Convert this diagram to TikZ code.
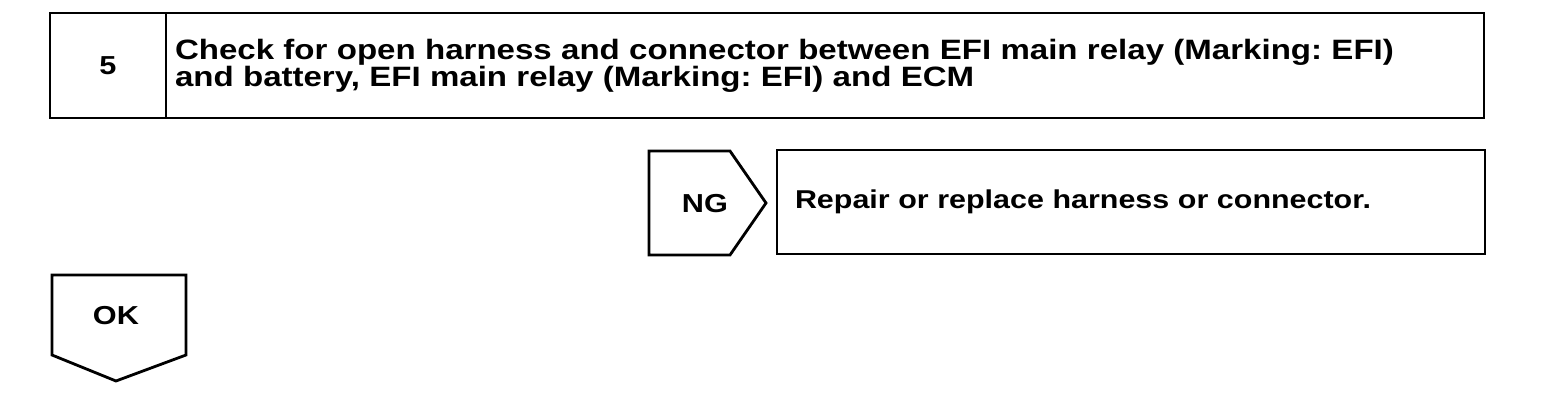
\documentclass[tikz,border=0pt]{standalone}
\usepackage{fontspec}
\setmainfont{Liberation Sans}[FakeStretch=1.18]
\usepackage{tikz}
\usetikzlibrary{positioning}
\frenchspacing

\begin{document}
\begin{tikzpicture}[x=0.5pt, y=-0.5pt,
  every node/.style={font=\bfseries\fontsize{13}{13.5}\selectfont},
  frame/.style={draw, line width=1.4pt, inner sep=0pt, outer sep=0pt},
  tag/.style={inner sep=0pt},
  headtext/.style={font=\bfseries\fontsize{14}{13.5}\selectfont},
  bodytext/.style={font=\bfseries\fontsize{12.9}{13.5}\selectfont}]
\useasboundingbox (0,0) rectangle (1568,396);

% Step header
\node[frame, minimum width=58pt, minimum height=52.5pt] (numbox) at (108,65.5) {5};
\node[frame, headtext, minimum width=659pt, minimum height=52.5pt, anchor=west,
  text width=650pt, align=left, inner xsep=4.5pt] (titlebox) at (numbox.east)
  {Check for open harness and connector between EFI main relay (Marking: EFI)\\
   and battery, EFI main relay (Marking: EFI) and ECM};

% NG branch
\draw[line width=1.4pt, line join=miter] (649,151) -- (730,151) -- (766,203)
  -- (730,255) -- (649,255) -- cycle;
\node[tag] (ng) at (705,204) {NG};
\node[frame, bodytext, minimum width=354pt, minimum height=52pt, anchor=west,
  text width=336pt, align=left, inner xsep=9pt] (repairbox) at (777,202)
  {Repair or replace harness or connector.};

% OK branch
\draw[line width=1.4pt, line join=miter] (52,275) -- (186,275) -- (186,355)
  -- (116,381) -- (52,355) -- cycle;
\node[tag] (ok) at (116,316) {OK};

\end{tikzpicture}
\end{document}
